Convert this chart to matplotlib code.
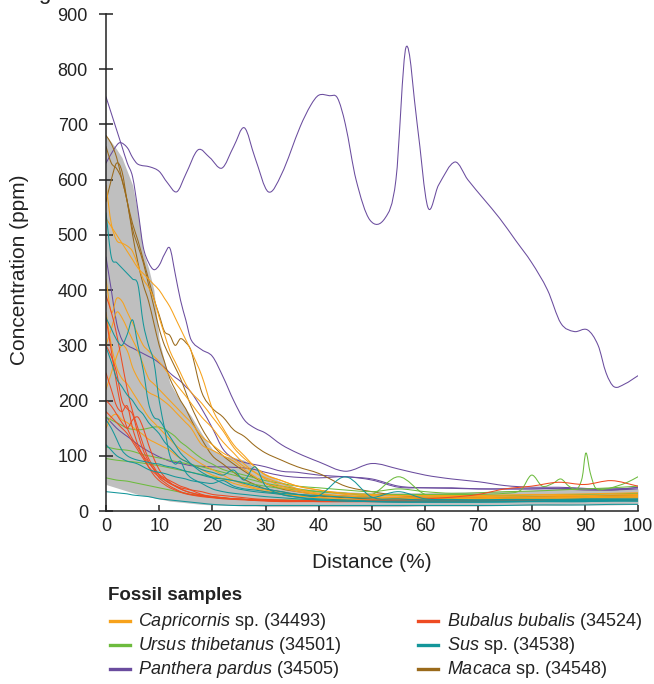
import matplotlib
matplotlib.use("Agg")
import matplotlib.pyplot as plt
from matplotlib.lines import Line2D
from matplotlib.path import Path
from matplotlib.patches import PathPatch
from matplotlib import font_manager

plt.rcParams['font.family'] = ['Liberation Sans', 'DejaVu Sans']
plt.rcParams['mathtext.fontset'] = 'custom'
plt.rcParams['mathtext.it'] = 'Liberation Sans:italic'
plt.rcParams['mathtext.rm'] = 'Liberation Sans'

# ---------------- data ----------------
X = [0, 1, 2, 3, 4, 5, 6, 7, 8, 9, 10, 11, 12, 13, 14, 15, 16, 18, 20, 22, 24, 26, 28, 30,
     33, 36, 40, 45, 50, 55, 60, 65, 70, 75, 80, 85, 90, 95, 100]

band_upper = [680, 668, 655, 640, 615, 590, 540, 470, 440, 400, 310, 270, 232, 215, 200, 185, 172, 140,
              112, 100, 97, 92, 78, 66, 53, 42, 38, 35, 33, 33, 33, 34, 35, 36, 38, 40, 42, 42, 40]
band_lower = [48, 45, 42, 39, 36, 33, 30, 28, 26, 24, 22, 20, 18, 17, 16, 15, 14, 12, 11, 10, 10, 9, 9, 8,
              8, 8, 8, 8, 8, 8, 9, 9, 9, 10, 10, 10, 11, 11, 12]

# Panthera pardus (34505)
panthera_main_x = [0, 1.5, 2.6, 4, 5, 6, 8.3, 10, 11.5, 13.3, 15, 17.3, 19.5, 21.8, 24, 26, 28, 30.5, 33,
                   36.5, 38.5, 40, 42, 43.5, 45, 47, 49.6, 52.5, 54.5, 56.4, 58.5, 60.5, 62.5, 65.6, 68,
                   71, 74, 77, 80, 83, 85.5, 88, 90.5, 92.5, 94, 95.5, 97.5, 100]
panthera_main_y = [630, 655, 667, 658, 640, 628, 623, 615, 595, 578, 610, 654, 640, 621, 660, 694, 640, 578,
                   610, 696, 735, 753, 752, 748, 700, 600, 527, 531, 600, 840, 700, 550, 590, 632, 600,
                   565, 530, 490, 450, 400, 340, 325, 328, 300, 250, 225, 230, 245]
panthera_lines = [
    [750, 720, 690, 660, 630, 605, 545, 478, 450, 437, 445, 465, 476, 430, 382, 346, 310, 292, 280, 243,
     200, 165, 150, 141, 120, 105, 89, 72, 86, 76, 65, 58, 53, 46, 43, 43, 41, 38, 43],
    [460, 400, 340, 310, 300, 295, 290, 285, 280, 275, 268, 260, 250, 242, 235, 225, 215, 185, 150, 112,
     95, 88, 84, 80, 72, 70, 65, 62, 58, 45, 42, 42, 40, 40, 40, 40, 38, 38, 40],
    [170, 160, 150, 142, 135, 128, 120, 114, 108, 103, 98, 94, 90, 88, 86, 84, 82, 81, 80, 80, 79, 78, 75,
     70, 64, 61, 60, 62, 56, 43, 42, 41, 40, 40, 40, 41, 40, 40, 42],
]

# Macaca sp. (34548)
macaca_lines = [
    [660, 630, 620, 600, 560, 520, 490, 455, 420, 385, 355, 325, 318, 300, 312, 305, 290, 215, 186, 170,
     147, 135, 118, 105, 92, 80, 68, 45, 35, 28, 25, 25, 25, 25, 26, 26, 27, 28, 30],
    [560, 600, 630, 615, 560, 510, 480, 450, 410, 370, 330, 300, 280, 260, 240, 215, 190, 150, 120, 100,
     85, 72, 60, 50, 40, 35, 30, 27, 25, 24, 24, 23, 24, 24, 25, 25, 26, 27, 28],
    [680, 665, 640, 600, 560, 500, 450, 410, 380, 340, 300, 270, 240, 220, 200, 185, 165, 130, 100, 85,
     70, 57, 48, 40, 35, 30, 27, 24, 22, 22, 22, 22, 22, 23, 23, 24, 24, 25, 26],
]

# Ursus thibetanus (34501)
ursus_lines = [
    [170, 165, 160, 155, 150, 148, 147, 148, 150, 152, 152, 148, 142, 135, 125, 118, 110, 95, 85, 75, 70,
     65, 60, 55, 50, 45, 42, 38, 35, 40, 35, 32, 33, 35, 36, 38, 40, 42, 45],
    [116, 114, 112, 111, 110, 108, 105, 102, 100, 98, 96, 94, 92, 90, 88, 86, 84, 80, 75, 70, 65, 60, 55,
     50, 45, 40, 35, 32, 30, 62, 30, 28, 28, 28, 29, 30, 30, 31, 32],
    [60, 58, 56, 55, 54, 52, 50, 48, 46, 44, 42, 40, 38, 36, 34, 32, 30, 28, 26, 24, 22, 21, 20, 20, 20,
     20, 20, 20, 20, 21, 21, 22, 22, 23, 23, 24, 24, 25, 25],
]
ursus_spiky_x = [0, 2, 4, 6, 8, 10, 12, 14, 16, 18, 20, 24, 28, 32, 36, 40, 45, 50, 55, 60, 65, 70, 75,
                 78, 80, 82, 84, 85.5, 87, 88.5, 89.5, 90.2, 91, 92, 94, 96, 98, 100]
ursus_spiky_y = [95, 92, 90, 88, 85, 82, 78, 74, 70, 66, 62, 55, 48, 42, 38, 35, 32, 30, 30, 30, 30, 30,
                 32, 38, 65, 45, 50, 58, 45, 40, 60, 105, 70, 42, 40, 45, 52, 62]

# Capricornis sp. (34493)
capricornis_lines = [
    [590, 520, 490, 485, 480, 470, 445, 420, 405, 385, 350, 320, 290, 270, 250, 230, 215, 195, 170, 145,
     115, 95, 80, 65, 55, 45, 38, 30, 28, 27, 27, 26, 26, 27, 27, 28, 28, 29, 30],
    [530, 515, 500, 485, 470, 455, 440, 430, 420, 410, 400, 385, 370, 350, 330, 310, 290, 245, 185, 150,
     120, 100, 80, 66, 55, 45, 38, 32, 30, 28, 28, 28, 28, 29, 30, 30, 31, 32, 33],
    [420, 360, 385, 380, 360, 340, 320, 300, 290, 280, 270, 258, 245, 232, 220, 208, 195, 170, 150, 125,
     105, 85, 70, 58, 45, 38, 30, 26, 24, 23, 23, 22, 23, 23, 24, 24, 25, 25, 26],
    [300, 330, 360, 350, 330, 310, 290, 265, 240, 230, 220, 210, 200, 190, 180, 170, 160, 135, 120, 105,
     95, 80, 70, 60, 50, 40, 32, 27, 25, 24, 24, 24, 24, 25, 25, 26, 26, 27, 28],
    [220, 250, 280, 300, 290, 260, 240, 225, 215, 210, 205, 198, 190, 180, 170, 160, 150, 120, 110, 100,
     90, 75, 62, 50, 42, 35, 30, 26, 24, 22, 22, 22, 22, 23, 23, 24, 24, 25, 26],
    [150, 170, 175, 165, 160, 152, 145, 138, 130, 125, 120, 115, 110, 102, 95, 90, 85, 75, 65, 58, 50, 45,
     40, 35, 30, 27, 25, 22, 20, 20, 20, 20, 21, 21, 22, 22, 23, 23, 24],
    [360, 300, 260, 240, 230, 215, 200, 185, 170, 160, 150, 140, 130, 120, 112, 105, 98, 85, 75, 65, 55,
     48, 42, 38, 32, 28, 24, 20, 19, 18, 18, 18, 19, 19, 20, 20, 21, 21, 22],
]

# Bubalus bubalis (34524)
bubalus_lines = [
    [390, 360, 320, 270, 220, 180, 150, 120, 95, 80, 65, 57, 50, 45, 40, 36, 33, 28, 25, 23, 22, 21, 20,
     20, 19, 19, 19, 19, 20, 20, 22, 25, 30, 40, 45, 52, 48, 55, 45],
    [300, 280, 250, 200, 185, 175, 140, 110, 90, 75, 60, 52, 45, 40, 35, 32, 30, 27, 25, 23, 22, 21, 20,
     19, 18, 18, 18, 18, 18, 18, 18, 18, 19, 19, 19, 20, 20, 20, 21],
    [250, 220, 190, 180, 190, 150, 120, 100, 80, 65, 55, 48, 42, 38, 34, 31, 29, 26, 24, 22, 21, 20, 19,
     18, 17, 17, 17, 17, 17, 17, 17, 17, 17, 18, 18, 18, 18, 19, 19],
    [180, 170, 160, 150, 140, 125, 110, 95, 80, 70, 62, 56, 50, 46, 42, 40, 38, 35, 30, 28, 26, 24, 22,
     21, 20, 19, 19, 18, 18, 18, 18, 18, 18, 19, 19, 19, 20, 20, 20],
    [350, 290, 230, 180, 150, 130, 115, 100, 88, 76, 66, 60, 55, 50, 45, 42, 38, 30, 26, 24, 22, 21, 20,
     19, 18, 18, 17, 17, 17, 17, 17, 17, 18, 18, 18, 18, 19, 19, 19],
    [200, 190, 175, 160, 150, 165, 170, 150, 120, 95, 75, 62, 52, 45, 40, 36, 33, 29, 26, 24, 22, 21, 20,
     19, 18, 18, 18, 18, 18, 18, 18, 19, 19, 19, 20, 20, 20, 20, 21],
]

# Sus sp. (34538)
sus_lines = [
    [540, 460, 450, 440, 430, 420, 410, 340, 300, 270, 200, 150, 100, 85, 90, 70, 60, 50, 40, 35, 32, 30,
     28, 26, 24, 22, 20, 18, 17, 16, 16, 16, 16, 16, 17, 17, 17, 18, 18],
    [297, 270, 240, 225, 210, 200, 185, 175, 160, 150, 140, 125, 115, 105, 95, 90, 85, 75, 70, 65, 74, 56,
     80, 45, 30, 25, 20, 18, 17, 16, 16, 16, 16, 17, 17, 17, 17, 18, 18],
    [165, 150, 130, 110, 100, 95, 92, 90, 88, 86, 85, 82, 80, 78, 75, 72, 70, 65, 60, 58, 55, 50, 45, 40,
     35, 30, 28, 62, 25, 22, 20, 20, 20, 21, 21, 21, 22, 22, 22],
    [350, 330, 310, 300, 320, 346, 300, 255, 195, 170, 165, 150, 135, 120, 105, 95, 85, 70, 60, 50, 42, 38,
     35, 33, 30, 25, 22, 20, 18, 18, 18, 18, 18, 18, 18, 19, 19, 19, 20],
    [120, 110, 100, 95, 90, 88, 85, 80, 75, 72, 70, 68, 65, 62, 60, 58, 55, 52, 50, 55, 45, 40, 38, 35,
     32, 30, 28, 25, 24, 35, 22, 21, 20, 20, 20, 20, 21, 21, 21],
    [35, 34, 33, 32, 31, 29, 28, 27, 26, 24, 22, 21, 20, 19, 18, 17, 16, 14, 12, 11, 10, 10, 10, 10, 10,
     10, 10, 10, 10, 10, 10, 10, 10, 10, 11, 11, 11, 12, 12],
]

legend_labels = [r'$\mathit{Capricornis}$ sp. (34493)', r'$\mathit{Bubalus\ bubalis}$ (34524)',
                 r'$\mathit{Ursus\ thibetanus}$ (34501)', r'$\mathit{Sus}$ sp. (34538)',
                 r'$\mathit{Panthera\ pardus}$ (34505)', r'$\mathit{Macaca}$ sp. (34548)']

x_ticks = [0, 10, 20, 30, 40, 50, 60, 70, 80, 90, 100]
y_ticks = [0, 100, 200, 300, 400, 500, 600, 700, 800, 900]

# ---------------- styling ----------------
C_CAP = '#F7A21B'
C_URS = '#6DBB3E'
C_PAN = '#6A4C9E'
C_BUB = '#EE4B22'
C_SUS = '#14969A'
C_MAC = '#9A6A1B'
LW = 0.75
TXT = '#222222'

W, H = 654, 684
fig = plt.figure(figsize=(W / 100, H / 100), dpi=100)
ax = fig.add_axes([106 / W, 1 - 511 / H, 532 / W, 497 / H])


def smooth_line(ax, xs, ys, color):
    """Draw a smoothed (Bezier) line through the data points, in data coordinates."""
    n = len(xs)
    verts = [(xs[0], ys[0])]
    codes = [Path.MOVETO]
    for i in range(n - 1):
        i0, i3 = max(i - 1, 0), min(i + 2, n - 1)
        x1, y1, x2, y2 = xs[i], ys[i], xs[i + 1], ys[i + 1]
        h = x2 - x1
        m1 = (ys[i + 1] - ys[i0]) / (xs[i + 1] - xs[i0])
        m2 = (ys[i3] - ys[i]) / (xs[i3] - xs[i])
        verts += [(x1 + h / 3, y1 + m1 * h / 3), (x2 - h / 3, y2 - m2 * h / 3), (x2, y2)]
        codes += [Path.CURVE4] * 3
    ax.add_patch(PathPatch(Path(verts, codes), fill=False, edgecolor=color, lw=LW,
                           zorder=2, capstyle='round', joinstyle='round'))


ax.fill_between(X, band_lower, band_upper, color='#bfbfbf', lw=0, zorder=1)

for ys in panthera_lines:
    smooth_line(ax, X, ys, C_PAN)
smooth_line(ax, panthera_main_x, panthera_main_y, C_PAN)
for ys in macaca_lines:
    smooth_line(ax, X, ys, C_MAC)
for ys in ursus_lines:
    smooth_line(ax, X, ys, C_URS)
smooth_line(ax, ursus_spiky_x, ursus_spiky_y, C_URS)
for ys in capricornis_lines:
    smooth_line(ax, X, ys, C_CAP)
for ys in bubalus_lines:
    smooth_line(ax, X, ys, C_BUB)
for ys in sus_lines:
    smooth_line(ax, X, ys, C_SUS)

ax.set_xlim(0, 100)
ax.set_ylim(0, 900)
ax.set_xticks(x_ticks)
ax.set_yticks(y_ticks)
for s in ['top', 'right']:
    ax.spines[s].set_visible(False)
for s in ['left', 'bottom']:
    ax.spines[s].set_linewidth(1.1)
    ax.spines[s].set_color(TXT)
ax.tick_params(axis='y', direction='inout', length=10, width=1.1, pad=8, labelsize=13, colors=TXT)
ax.tick_params(axis='x', direction='in', length=4.5, width=1.1, pad=5, labelsize=13, colors=TXT)

narrow = None
for f in font_manager.fontManager.ttflist:
    if f.name == 'Liberation Sans Narrow':
        narrow = f.name
        break
if narrow:
    for lab in ax.get_xticklabels():
        lab.set_family([narrow, 'Liberation Sans'])

ax.set_xlabel('Distance (%)', fontsize=15, color=TXT)
ax.xaxis.set_label_coords(0.5, -(553 - 511) / 497)
ax.set_ylabel('Concentration (ppm)', fontsize=15, color=TXT)
ax.yaxis.set_label_coords(-(106 - 29) / 532, (511 - 270) / 497)

# partial panel text at the very top (cut off in the reference as well)
fig.text(44 / W, 1 + 1 / H, 'g', fontsize=16, va='baseline', ha='center', color=TXT)

# legend (manual)
fig.text(108 / W, 1 - 596 / H, 'Fossil samples', fontsize=13.5, weight='bold', va='center', color=TXT)
colors = [C_CAP, C_BUB, C_URS, C_SUS, C_PAN, C_MAC]
col_x = [(110, 130, 138), (418, 438, 447)]
row_y = [621, 645, 669]
for i, (lab, c) in enumerate(zip(legend_labels, colors)):
    col = i % 2
    row = i // 2
    x0, x1, xt = col_x[col]
    yy = 1 - row_y[row] / H
    fig.add_artist(Line2D([x0 / W, x1 / W], [yy, yy], color=c, lw=2.4, transform=fig.transFigure))
    fig.text(xt / W, yy, lab, fontsize=13, va='center', ha='left', color=TXT)

fig.savefig('out.png', dpi=100)
